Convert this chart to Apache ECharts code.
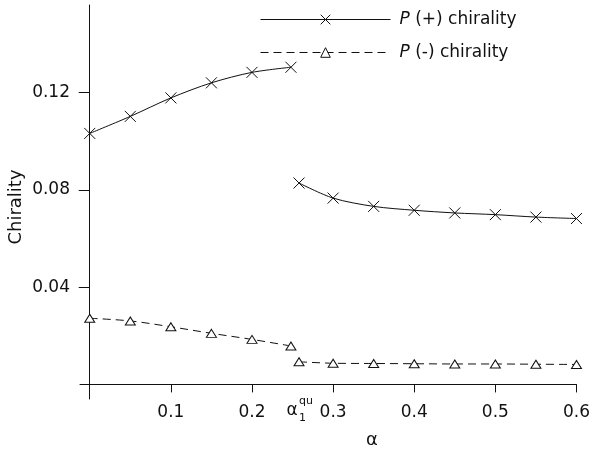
<!DOCTYPE html>
<html>
<head>
<meta charset="utf-8">
<script src="https://cdn.jsdelivr.net/npm/echarts@6/dist/echarts.min.js"></script>
<style>
  html, body { margin: 0; padding: 0; background: #fff; }
  #chart { width: 593px; height: 455px; }
</style>
</head>
<body>
<div id="chart"></div>
<script>
// values
const alphaLow = [0, 0.05, 0.1, 0.15, 0.2, 0.248];
const alphaHigh = [0.258, 0.3, 0.35, 0.4, 0.45, 0.5, 0.55, 0.6];
const plusLow = [0.1032, 0.1102, 0.1178, 0.1240, 0.1283, 0.1304];
const plusHigh = [0.0828, 0.0766, 0.0732, 0.0716, 0.0705, 0.0698, 0.0688, 0.0682];
const minusLow = [0.0272, 0.0261, 0.0237, 0.0210, 0.0185, 0.0158];
const minusHigh = [0.0093, 0.0087, 0.0086, 0.0085, 0.0084, 0.0084, 0.0083, 0.0082];
const xTicks = [0.1, 0.2, 0.3, 0.4, 0.5, 0.6];
const yTicks = [0.04, 0.08, 0.12];
const alphaQu = 0.253;

const FONT = 'DejaVu Sans';
const INK = '#111';
const pairs = (xs, ys) => xs.map((x, i) => [x, ys[i]]);

const crossSymbol = 'path://M0,0L10,10M10,0L0,10';

const plusStyle = {
  type: 'line',
  name: 'P(+)',
  smooth: 0.3,
  symbol: crossSymbol,
  symbolSize: 11,
  showAllSymbol: true,
  lineStyle: { color: INK, width: 1 },
  itemStyle: { color: INK, borderColor: INK, borderWidth: 1 }
};
const minusStyle = {
  type: 'line',
  name: 'P(-)',
  smooth: 0.3,
  symbol: 'triangle',
  symbolSize: [10, 8],
  showAllSymbol: true,
  lineStyle: { color: INK, width: 1, type: [8, 5] },
  itemStyle: { color: '#fff', borderColor: INK, borderWidth: 1 }
};

const chart = echarts.init(document.getElementById('chart'));

chart.setOption({
  animation: false,
  backgroundColor: '#fff',
  textStyle: { fontFamily: FONT, color: INK },
  grid: { left: 80, right: 11, top: 5, bottom: 56 },
  legend: {
    data: ['P(+)', 'P(-)'],
    orient: 'vertical',
    left: 255,
    top: 6,
    itemWidth: 130,
    itemHeight: 12,
    itemGap: 16,
    lineStyle: { width: 1 },
    itemStyle: { borderWidth: 1 },
    formatter: name => name === 'P(+)' ? '{i|P} (+) chirality' : '{i|P} (-) chirality',
    textStyle: {
      fontFamily: FONT, fontSize: 17, color: INK, padding: [0, 0, 0, 4],
      rich: { i: { fontStyle: 'italic', fontFamily: FONT, fontSize: 17, color: INK } }
    }
  },
  xAxis: {
    type: 'value',
    min: -0.012,
    max: 0.6,
    splitLine: { show: false },
    axisLine: { onZero: true, lineStyle: { color: INK, width: 1 } },
    axisTick: { customValues: xTicks, length: 8, lineStyle: { color: INK } },
    axisLabel: { customValues: xTicks, margin: 5, fontSize: 17, color: INK, fontFamily: FONT }
  },
  yAxis: {
    type: 'value',
    min: -0.006,
    max: 0.156,
    splitLine: { show: false },
    axisLine: { onZero: true, lineStyle: { color: INK, width: 1 } },
    axisTick: { customValues: yTicks, length: 11, lineStyle: { color: INK } },
    axisLabel: { customValues: yTicks, margin: 10, fontSize: 17, color: INK, fontFamily: FONT }
  },
  series: [
    Object.assign({}, plusStyle, { data: pairs(alphaLow, plusLow) }),
    Object.assign({}, plusStyle, { data: pairs(alphaHigh, plusHigh) }),
    Object.assign({}, minusStyle, { data: pairs(alphaLow, minusLow) }),
    Object.assign({}, minusStyle, { data: pairs(alphaHigh, minusHigh) })
  ]
});

// axis titles and the alpha_1^qu mark, placed from the axes
const qx = chart.convertToPixel({ xAxisIndex: 0 }, alphaQu);
const x0 = chart.convertToPixel({ xAxisIndex: 0 }, 0);
const y0 = chart.convertToPixel({ yAxisIndex: 0 }, 0);
chart.setOption({
  graphic: [
    {
      type: 'text', x: qx - 3, y: y0 + 26,
      style: { text: 'α', font: '17px "' + FONT + '"', fill: INK, align: 'center', verticalAlign: 'middle' }
    },
    {
      type: 'text', x: qx + 4, y: y0 + 17,
      style: { text: 'qu', font: '11px "' + FONT + '"', fill: INK, align: 'left', verticalAlign: 'middle' }
    },
    {
      type: 'text', x: qx + 4, y: y0 + 34,
      style: { text: '1', font: '11px "' + FONT + '"', fill: INK, align: 'left', verticalAlign: 'middle' }
    },
    {
      type: 'text', x: 372, y: 440,
      style: { text: 'α', font: '18px "' + FONT + '"', fill: INK, align: 'center', verticalAlign: 'middle' }
    },
    {
      type: 'text', x: x0 - 73, y: 207, rotation: Math.PI / 2,
      style: { text: 'Chirality', font: '18px "' + FONT + '"', fill: INK, align: 'center', verticalAlign: 'middle' }
    }
  ]
});
</script>
</body>
</html>
